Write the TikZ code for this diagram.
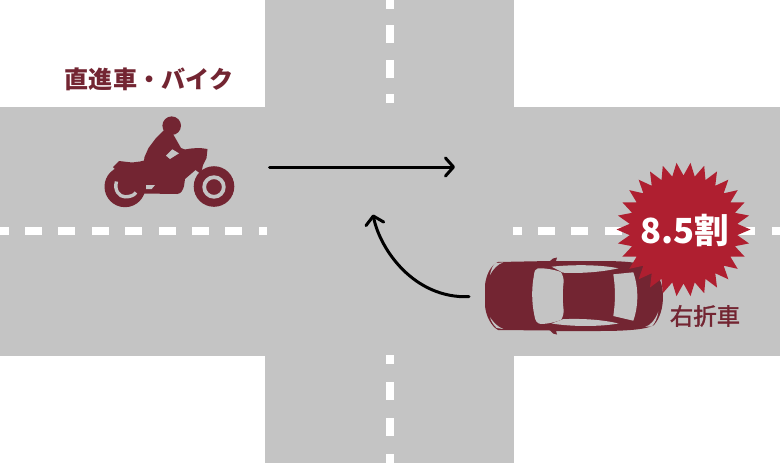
\documentclass[tikz,border=0pt]{standalone}
\usepackage{fontspec}
\newfontfamily\jpfont{Noto Sans CJK JP}
\newfontfamily\jpmid[FakeBold=1.6]{Noto Sans CJK JP}
\usepackage{xcolor}
\usetikzlibrary{arrows.meta}
\usetikzlibrary{shapes.geometric}
\definecolor{roadgray}{HTML}{C4C4C4}
\definecolor{darkred}{HTML}{732532}
\definecolor{starred}{HTML}{AF1F30}

\begin{document}
\begin{tikzpicture}
  [x=1pt,y=-1pt,
   dash box/.style={fill=white},
   hole/.style={fill=roadgray},
   vehicle/.style={fill=darkred},
   move/.style={draw=black,line width=3pt,line cap=round,-{Straight Barb[length=8pt,width=18pt,round]}},
   caption/.style={text=darkred,inner sep=0pt,font=\jpfont\bfseries}]
  \useasboundingbox (0,0) rectangle (780,463);

  % road
  \fill[roadgray] (0,107) rectangle (780,356);
  \fill[roadgray] (265,0) rectangle (514,463);
  \foreach \x in {-8.5,25,58.4,91.8,125.2,158.6,192,225.4}
    \fill[dash box] (\x,226.5) rectangle +(17,8.5);
  \fill[dash box] (258.5,226.5) rectangle (267,235);
  \fill[dash box] (513,226.5) rectangle (522,235);
  \foreach \x in {538,571.4,604.8,638,671.4,704.8,738}
    \fill[dash box] (\x,226.5) rectangle +(17,8.5);
  \fill[dash box] (771.5,226.5) rectangle (780,235);
  \foreach \y/\h in {0/8.5,25/18,60/17.5,94/9,355/9,382/18,418/18,454/9}
    \fill[dash box] (386,\y) rectangle +(8,\h);

  % motorcycle
  \fill[vehicle] (165,129) -- (156,138) -- (148.5,148) -- (144.5,157) -- (144,160.5)
    -- (140,161.5) -- (132,162.5) -- (119,161) -- (113,167) -- (120,175)
    -- (143,193.5) -- (177,194) .. controls (181,194) and (183,190) .. (184,186)
    -- (185,179) -- (195.5,170) -- (201,174) -- (203,165) -- (206.5,158)
    -- (207.5,149) .. controls (200,147.5) and (192,148) .. (185,149.5)
    -- (181,148) -- (173,134) -- cycle;
  \fill[vehicle] (171.7,125.7) circle (9.3);
  \fill[vehicle] (125,186.7) circle (20.5);
  \fill[vehicle] (214,186.5) circle (20.3);
  \fill[hole] (172.3,149.3) -- (179,153.3) -- (170,159) -- (166,155.7) -- cycle;
  \fill[hole] (146,185) -- (155,185) -- (151.7,189) -- (146,189) -- cycle;
  \draw[roadgray,line width=3.4pt] (116.5,181.5) .. controls (114,190) and (119,196.8) .. (125,196.8)
    .. controls (130,196.8) and (134,195.5) .. (136,192.5);
  \draw[roadgray,line width=3.8pt] (214,187) circle (9.8);

  % car
  \fill[vehicle] (485,285) .. controls (486,275) and (491,265) .. (498,262)
    -- (550,261) -- (553,258.5) -- (557,257.5) -- (556,261) -- (600,261)
    .. controls (630,261) and (650,263) .. (656,272)
    .. controls (661,280) and (663,288) .. (663,296)
    .. controls (663,308) and (660,318) .. (654,325)
    .. controls (648,329) and (630,331) .. (600,331)
    -- (556,331) -- (557,334.5) -- (553,333.5) -- (550,330.5) -- (498,330)
    .. controls (491,326) and (486,316) .. (485,306) -- cycle;
  \fill[hole] (538,268.3) .. controls (546,268) and (555,270) .. (561,272)
    .. controls (563,276) and (564,279) .. (563.5,283)
    .. controls (562.5,292) and (562.5,300) .. (563.5,309)
    .. controls (564,313) and (563,317) .. (561,320)
    .. controls (555,322) and (548,324) .. (541,324)
    .. controls (537,324) and (535,320) .. (534.5,316)
    .. controls (531.5,302) and (531.5,288) .. (534,275)
    .. controls (534.5,271) and (535,269) .. (538,268.3) -- cycle;
  \fill[hole] (551.7,266.7) .. controls (572,264.5) and (600,264.5) .. (618.3,268.3)
    .. controls (600,272.5) and (578,273.5) .. (563,272.7) -- cycle;
  \fill[hole] (551.7,323.5) .. controls (572,326.8) and (600,326.8) .. (618.3,323.5)
    .. controls (600,319) and (578,318.5) .. (563,319.2) -- cycle;
  \fill[hole] (613.3,274.3) -- (633.3,272.3) .. controls (636,280) and (637.3,288) .. (637.3,296.5)
    .. controls (637.3,305) and (636,313) .. (633.3,320.7) -- (613.3,316)
    .. controls (615.5,302) and (615.5,288) .. (613.3,274.3) -- cycle;
  \fill[hole] (490,275) .. controls (491,270) and (492.5,266) .. (495,263.3) -- (503.3,262.3)
    .. controls (498,264) and (493,269) .. (490,275) -- cycle;
  \fill[hole] (490,317.3) .. controls (494,323) and (498,327) .. (503.3,329) -- (496.7,328)
    .. controls (493.5,325) and (491.5,322) .. (490,317.3) -- cycle;
  \fill[hole] (645,326.7) .. controls (650,326) and (655,320) .. (658.3,311.7)
    .. controls (657.5,318) and (655,323) .. (651.7,326.7) -- cycle;

  % labels and badge
  \node[caption,font=\jpfont\bfseries\fontsize{24.1}{24}\selectfont] (n1) at (149,79) {直進車・バイク};
  \node[caption,font=\jpmid\fontsize{23.4}{24}\selectfont] (n2) at (705,316) {右折車};
  \node[star,star points=30,star point ratio=1.24,shape border rotate=90,fill=starred,
    minimum size=134pt,inner sep=0pt] (n3) at (683.5,229.5) {};
  \node[text=white,inner sep=0pt,font=\jpfont\bfseries\fontsize{34.6}{34}\selectfont] (n4) at (685,231) {8.5割};

  % moves
  \coordinate (s1) at (269.5,167);
  \coordinate (e1) at (455,167);
  \coordinate (s2) at (469,296.7);
  \coordinate (e2) at (373,214.5);
  \draw[move] (s1) -- (e1);
  \draw[move] (s2) .. controls +(-55,2) and +(7,35) .. (e2);

\end{tikzpicture}
\end{document}
